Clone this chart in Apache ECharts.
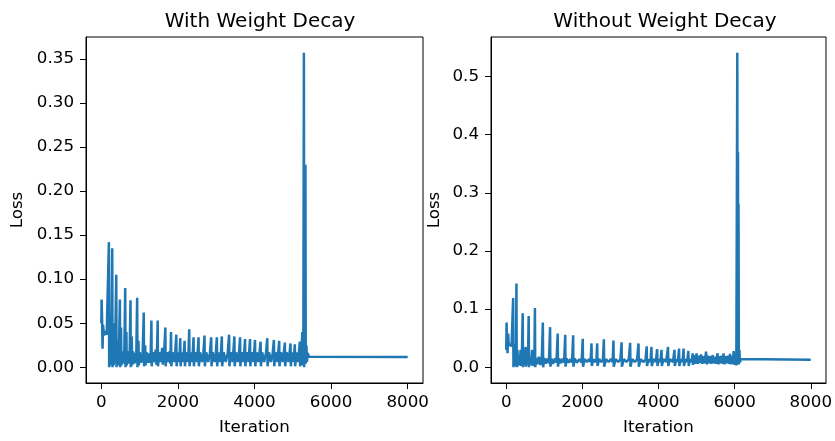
<!DOCTYPE html>
<html>
<head>
<meta charset="utf-8">
<script src="https://cdn.jsdelivr.net/npm/echarts@6/dist/echarts.min.js"></script>
<style>
  html, body { margin: 0; padding: 0; background: #fff; }
  #main { width: 835px; height: 441px; }
</style>
</head>
<body>
<div id="main"></div>
<script>
// loss curves, [iteration, loss]
var withDecay = [
  [0,0.050],[8,0.077],[20,0.055],[32,0.021],[45,0.048],[70,0.036],[100,0.041],[140,0.037],[185,0.036],
  [198,0.142],[205,0.000],[218,0.060],[228,0.002],[245,0.040],[258,0.003],
  [285,0.135],[293,0.000],[310,0.050],[320,0.002],[340,0.030],[355,0.004],
  [390,0.105],[398,0.000],[420,0.030],[435,0.002],[460,0.017],
  [485,0.077],[493,0.000],[515,0.045],[525,0.002],[550,0.018],[580,0.004],[600,0.016],
  [624,0.090],[632,0.000],[655,0.040],[665,0.002],[690,0.018],[720,0.004],[740,0.016],
  [762,0.076],[770,0.000],[795,0.035],[805,0.002],[830,0.018],[860,0.004],[890,0.016],[910,0.005],
  [936,0.079],[944,0.000],[970,0.030],[980,0.002],[1005,0.017],[1040,0.005],[1080,0.016],
  [1108,0.062],[1116,0.001],[1145,0.025],[1155,0.002],[1180,0.017],[1220,0.005],[1260,0.016],[1285,0.005],
  [1308,0.053],[1316,0.001],[1345,0.017],[1385,0.006],[1420,0.020],[1435,0.003],[1452,0.016],
  [1472,0.053],[1480,0.001],[1510,0.017],[1550,0.006],[1590,0.022],[1605,0.003],[1640,0.016],
  [1672,0.045],[1680,0.001],[1710,0.017],[1750,0.006],[1780,0.018],[1800,0.004],
  [1820,0.040],[1828,0.001],[1860,0.017],[1900,0.006],[1930,0.016],
  [1958,0.037],[1966,0.001],[1995,0.017],[2035,0.006],
  [2062,0.033],[2070,0.001],[2100,0.017],[2140,0.006],
  [2175,0.030],[2183,0.001],[2210,0.017],[2250,0.006],[2275,0.016],
  [2296,0.043],[2304,0.001],[2335,0.017],[2375,0.006],
  [2409,0.034],[2417,0.001],[2450,0.017],[2500,0.006],
  [2539,0.034],[2547,0.001],[2580,0.017],[2630,0.006],[2665,0.016],
  [2695,0.036],[2703,0.001],[2740,0.017],[2790,0.006],[2835,0.016],
  [2869,0.034],[2877,0.001],[2910,0.017],[2960,0.006],[2990,0.016],
  [3017,0.034],[3025,0.001],[3060,0.017],[3110,0.006],
  [3147,0.035],[3155,0.001],[3195,0.017],[3250,0.006],[3300,0.016],
  [3337,0.037],[3345,0.001],[3380,0.017],[3430,0.006],
  [3475,0.035],[3483,0.001],[3520,0.017],[3570,0.006],[3595,0.016],
  [3623,0.034],[3631,0.001],[3665,0.017],[3715,0.006],
  [3753,0.032],[3761,0.001],[3795,0.017],[3845,0.006],
  [3883,0.032],[3891,0.001],[3925,0.017],[3975,0.006],
  [4013,0.031],[4021,0.001],[4055,0.017],[4105,0.006],
  [4160,0.029],[4168,0.001],[4200,0.017],[4250,0.006],[4300,0.016],
  [4333,0.033],[4341,0.001],[4380,0.017],[4430,0.006],[4475,0.016],
  [4507,0.031],[4515,0.001],[4550,0.017],[4600,0.006],
  [4645,0.030],[4653,0.001],[4690,0.017],[4740,0.006],
  [4793,0.028],[4801,0.001],[4840,0.017],[4890,0.006],
  [4941,0.027],[4949,0.001],[4985,0.017],[5020,0.006],
  [5053,0.026],[5061,0.001],[5100,0.017],[5140,0.006],
  [5183,0.029],[5191,0.001],[5220,0.016],
  [5250,0.040],[5258,0.002],[5275,0.012],
  [5290,0.357],[5298,0.000],[5310,0.120],[5318,0.010],[5330,0.230],[5338,0.004],
  [5355,0.025],[5370,0.006],[5390,0.016],[5420,0.012],[5460,0.0125],[8000,0.0115]
];

var withoutDecay = [
  [0,0.030],[10,0.077],[22,0.040],[35,0.024],[50,0.058],[65,0.040],[100,0.038],[140,0.036],[172,0.035],
  [182,0.119],[190,0.000],[205,0.040],[220,0.002],[240,0.030],[255,0.005],
  [268,0.144],[276,0.000],[295,0.030],[310,0.002],[330,0.020],[350,0.004],[380,0.030],[390,0.002],[410,0.016],
  [433,0.093],[441,0.000],[460,0.020],[480,0.003],[510,0.035],[520,0.001],[550,0.016],[570,0.004],
  [590,0.088],[598,0.000],[620,0.018],[650,0.004],[680,0.030],[690,0.002],[720,0.015],[738,0.005],
  [754,0.102],[762,0.000],[785,0.016],[820,0.005],[860,0.018],[900,0.004],[935,0.016],
  [962,0.077],[970,0.000],[1000,0.016],[1040,0.006],[1080,0.015],[1120,0.007],
  [1152,0.069],[1160,0.001],[1190,0.015],[1230,0.006],[1280,0.015],[1320,0.008],
  [1352,0.058],[1360,0.001],[1390,0.015],[1440,0.007],[1480,0.015],[1520,0.008],
  [1550,0.056],[1558,0.001],[1590,0.015],[1640,0.008],[1690,0.014],[1730,0.008],
  [1758,0.055],[1766,0.001],[1800,0.015],[1860,0.008],[1920,0.014],[1980,0.008],
  [2010,0.049],[2018,0.001],[2060,0.014],[2120,0.009],[2180,0.014],[2215,0.009],
  [2240,0.041],[2248,0.002],[2290,0.014],[2340,0.009],[2370,0.013],
  [2390,0.041],[2398,0.002],[2440,0.014],[2500,0.009],[2540,0.013],
  [2565,0.048],[2573,0.001],[2620,0.014],[2690,0.009],[2750,0.014],[2795,0.009],
  [2817,0.046],[2825,0.001],[2870,0.014],[2940,0.009],[3000,0.014],
  [3030,0.043],[3038,0.001],[3090,0.014],[3160,0.009],[3220,0.014],
  [3255,0.042],[3263,0.001],[3310,0.014],[3380,0.009],[3440,0.014],
  [3475,0.041],[3483,0.001],[3530,0.014],[3600,0.009],[3660,0.013],
  [3690,0.036],[3698,0.002],[3740,0.014],[3790,0.009],
  [3815,0.035],[3823,0.002],[3870,0.014],[3930,0.009],
  [3965,0.031],[3973,0.002],[4010,0.014],[4050,0.009],
  [4080,0.030],[4088,0.002],[4130,0.014],[4200,0.009],
  [4250,0.035],[4258,0.002],[4300,0.014],[4380,0.009],
  [4420,0.030],[4428,0.002],[4470,0.014],[4510,0.009],
  [4540,0.032],[4548,0.002],[4590,0.014],[4630,0.009],
  [4660,0.032],[4668,0.002],[4710,0.014],[4750,0.009],
  [4785,0.028],[4793,0.002],[4830,0.014],[4870,0.009],
  [4897,0.024],[4905,0.004],[4940,0.021],[4970,0.006],[5000,0.024],[5030,0.006],[5060,0.020],[5090,0.007],
  [5120,0.022],[5150,0.006],[5180,0.019],[5210,0.007],[5250,0.027],[5270,0.005],[5300,0.020],[5330,0.007],
  [5360,0.019],[5390,0.006],[5420,0.021],[5450,0.007],[5480,0.018],[5510,0.006],[5550,0.024],[5575,0.005],
  [5600,0.019],[5630,0.007],[5660,0.020],[5690,0.006],[5710,0.024],[5735,0.005],[5770,0.019],[5800,0.007],
  [5830,0.020],[5855,0.006],[5880,0.023],[5905,0.005],[5930,0.019],[5955,0.006],[5975,0.028],[5995,0.004],
  [6020,0.021],[6045,0.003],
  [6070,0.541],[6078,0.010],[6088,0.370],[6095,0.020],[6102,0.281],[6110,0.005],
  [6125,0.030],[6140,0.008],[6160,0.014],[6200,0.0135],[8000,0.0127]
];

var xTicks = [0, 2000, 4000, 6000, 8000];
var yTicksLeft = [0, 0.05, 0.10, 0.15, 0.20, 0.25, 0.30, 0.35];
var yTicksRight = [0, 0.1, 0.2, 0.3, 0.4, 0.5];

var font = 'DejaVu Sans';
var blue = '#1f77b4';

function xAxisFor(idx) {
    return {
        gridIndex: idx,
        type: 'value',
        min: -400,
        max: 8400,
        name: 'Iteration',
        nameLocation: 'middle',
        nameGap: 36,
        nameTextStyle: { fontFamily: font, fontSize: 16.7, color: '#000' },
        axisLine: { show: true, onZero: false, lineStyle: { color: '#000', width: 1 } },
        axisTick: { show: true, length: 6, customValues: xTicks, lineStyle: { color: '#000', width: 1 } },
        axisLabel: {
            customValues: xTicks, margin: 11, fontFamily: font, fontSize: 16.7, color: '#000',
            formatter: function (v) { return String(v); }
        },
        splitLine: { show: false }
    };
}

function yAxisFor(idx, min, max, ticks, digits, gap) {
    return {
        gridIndex: idx,
        type: 'value',
        min: min,
        max: max,
        name: 'Loss',
        nameLocation: 'middle',
        nameGap: gap,
        nameTextStyle: { fontFamily: font, fontSize: 16.7, color: '#000' },
        axisLine: { show: true, onZero: false, lineStyle: { color: '#000', width: 1 } },
        axisTick: { show: true, length: 6, customValues: ticks, lineStyle: { color: '#000', width: 1 } },
        axisLabel: {
            customValues: ticks, margin: 12, fontFamily: font, fontSize: 16.7, color: '#000',
            formatter: function (v) { return v.toFixed(digits); }
        },
        splitLine: { show: false }
    };
}

var chart = echarts.init(document.getElementById('main'), null, { renderer: 'canvas' });

var option = {
    animation: false,
    backgroundColor: '#fff',
    title: [
        { text: 'With Weight Decay', left: 255, top: 7, textAlign: 'center',
          textStyle: { fontFamily: font, fontSize: 20, fontWeight: 'normal', color: '#000' } },
        { text: 'Without Weight Decay', left: 660, top: 7, textAlign: 'center',
          textStyle: { fontFamily: font, fontSize: 20, fontWeight: 'normal', color: '#000' } }
    ],
    grid: [
        { left: 86, top: 37, width: 337, height: 346, show: true, borderColor: '#000', borderWidth: 1, backgroundColor: 'transparent' },
        { left: 491, top: 37, width: 338, height: 346, show: true, borderColor: '#000', borderWidth: 1, backgroundColor: 'transparent' }
    ],
    xAxis: [xAxisFor(0), xAxisFor(1)],
    yAxis: [
        yAxisFor(0, -0.0179, 0.3749, yTicksLeft, 2, 60),
        yAxisFor(1, -0.0271, 0.5681, yTicksRight, 1, 48)
    ],
    series: [
        { type: 'line', xAxisIndex: 0, yAxisIndex: 0, data: withDecay, showSymbol: false,
          lineStyle: { color: blue, width: 2.5 }, itemStyle: { color: blue } },
        { type: 'line', xAxisIndex: 1, yAxisIndex: 1, data: withoutDecay, showSymbol: false,
          lineStyle: { color: blue, width: 2.5 }, itemStyle: { color: blue } }
    ]
};

chart.setOption(option);
</script>
</body>
</html>
